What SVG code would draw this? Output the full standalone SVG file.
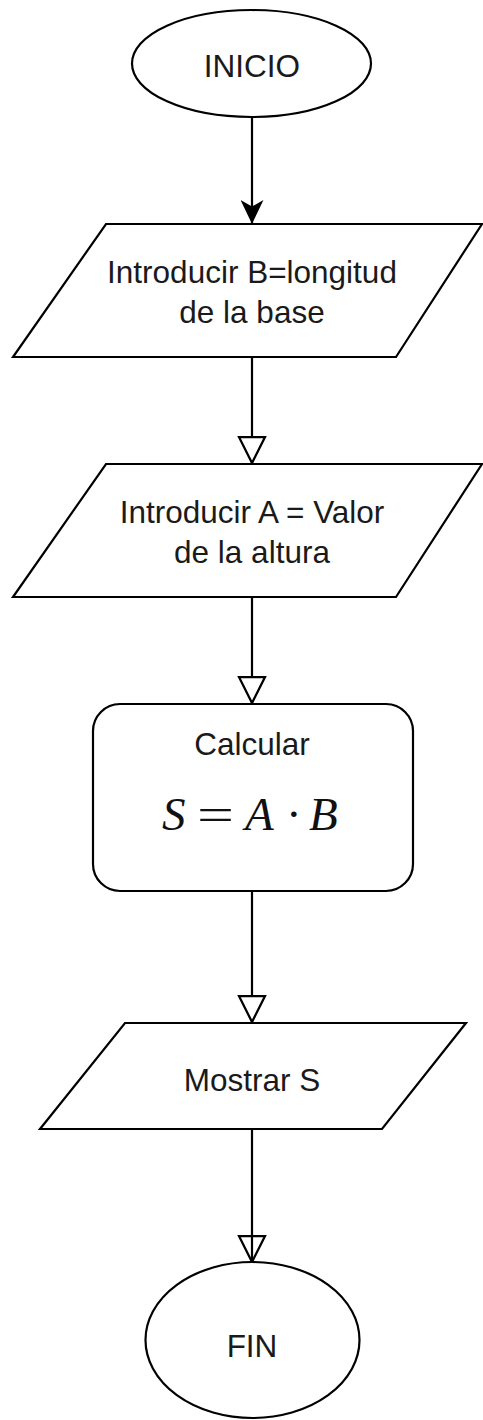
<svg xmlns="http://www.w3.org/2000/svg" width="483" height="1420" viewBox="0 0 483 1420">
  <style>
    .shape { fill: #ffffff; stroke: #000000; stroke-width: 2.2; }
    .label { font-family: "Liberation Sans", Arial, Helvetica, sans-serif; font-size: 31.5px; fill: #1a1a1a; text-anchor: middle; }
    .math { font-family: "Liberation Serif", "Times New Roman", serif; font-size: 47px; fill: #111111; }
    .it { font-style: italic; }
    .edge { fill: none; stroke: #000000; stroke-width: 2.2; }
  </style>
  <defs>
    <marker id="classic" markerUnits="userSpaceOnUse" markerWidth="24" markerHeight="23" viewBox="0 0 22 21" refX="22" refY="10.5" orient="auto">
      <path d="M0,0 L22,10.5 L0,21 L6,10.5 Z" fill="#000000"/>
    </marker>
    <marker id="open" markerUnits="userSpaceOnUse" markerWidth="30" markerHeight="30" viewBox="-2 -2 29 29" refX="25" refY="12.5" orient="auto">
      <path d="M0,0 L25,12.5 L0,25 Z" fill="#ffffff" stroke="#000000" stroke-width="2.2"/>
    </marker>
    <marker id="openThrough" markerUnits="userSpaceOnUse" markerWidth="30" markerHeight="30" viewBox="-2 -2 29 29" refX="25" refY="12.5" orient="auto">
      <path d="M0,0 L25,12.5 L0,25 Z" fill="none" stroke="#000000" stroke-width="2.2"/>
    </marker>
  </defs>

  <g id="connectors">
    <path class="edge" d="M252,117 L252,224" marker-end="url(#classic)"/>
    <path class="edge" d="M252,357 L252,463" marker-end="url(#open)"/>
    <path class="edge" d="M252,597 L252,703" marker-end="url(#open)"/>
    <path class="edge" d="M252,891 L252,1022" marker-end="url(#open)"/>
    <path class="edge" d="M252,1129 L252,1262" marker-end="url(#openThrough)"/>
  </g>

  <g id="inicio">
    <ellipse class="shape" cx="251.5" cy="63.5" rx="119.5" ry="53.5"/>
    <text class="label" x="252" y="77">INICIO</text>
  </g>

  <g id="input-b">
    <polygon class="shape" points="106,224 482,224 396,357 13,357"/>
    <text class="label" x="252" y="283">Introducir B=longitud</text>
    <text class="label" x="252" y="323">de la base</text>
  </g>

  <g id="input-a">
    <polygon class="shape" points="106,464 482,464 396,597 13,597"/>
    <text class="label" x="252" y="523">Introducir A = Valor</text>
    <text class="label" x="252" y="563">de la altura</text>
  </g>

  <g id="calcular">
    <rect class="shape" x="93" y="704" width="320" height="187" rx="27" ry="27"/>
    <text class="label" x="252" y="755">Calcular</text>
    <text class="math it" x="162" y="830">S</text>
    <text class="math" x="197" y="830" textLength="37" lengthAdjust="spacingAndGlyphs">=</text>
    <text class="math it" x="245" y="830">A</text>
    <text class="math" x="286" y="830">·</text>
    <text class="math it" x="309" y="830">B</text>
  </g>

  <g id="mostrar">
    <polygon class="shape" points="125,1023 466,1023 382,1129 40,1129"/>
    <text class="label" x="252" y="1091">Mostrar S</text>
  </g>

  <g id="fin">
    <ellipse class="shape" cx="252.5" cy="1340" rx="107" ry="78"/>
    <text class="label" x="252" y="1357">FIN</text>
  </g>
</svg>
